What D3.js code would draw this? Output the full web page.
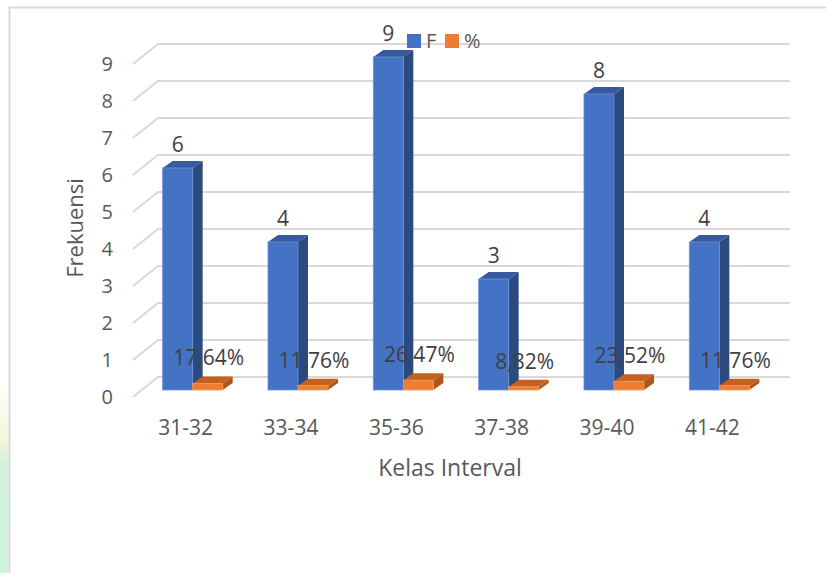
<!DOCTYPE html>
<html>
<head>
<meta charset="utf-8">
<script src="https://cdn.jsdelivr.net/npm/d3@7"></script>
<style>
  body { margin: 0; background: #fff; }
  svg { display: block; font-family: "Open Sans", "Noto Sans", sans-serif; }
</style>
</head>
<body>
<div id="chart"></div>
<script>
// Data
const categories = ["31-32", "33-34", "35-36", "37-38", "39-40", "41-42"];
const freq = [6, 4, 9, 3, 8, 4];
const pct = [0.1764, 0.1176, 0.2647, 0.0882, 0.2352, 0.1176];
const pctLabels = ["17,64%", "11,76%", "26,47%", "8,82%", "23,52%", "11,76%"];
const seriesNames = ["F", "%"];
const yTicks = [0, 1, 2, 3, 4, 5, 6, 7, 8, 9];

const W = 826, H = 573;
const svg = d3.select("#chart").append("svg").attr("width", W).attr("height", H);

// faint watermark strip on the left edge
const wm = svg.append("defs").append("linearGradient").attr("id", "wm")
  .attr("x1", 0).attr("y1", 0).attr("x2", 0).attr("y2", 1);
wm.append("stop").attr("offset", "0").attr("stop-color", "#ffffff");
wm.append("stop").attr("offset", "0.3").attr("stop-color", "#f5f6dc");
wm.append("stop").attr("offset", "0.45").attr("stop-color", "#cff2dc");
wm.append("stop").attr("offset", "1").attr("stop-color", "#cdf3dc");
svg.append("rect").attr("x", 0).attr("y", 380).attr("width", 8.5).attr("height", 193).attr("fill", "url(#wm)");

// outer frame
svg.append("path")
  .attr("d", "M9.5,573 V7.5 H826")
  .attr("fill", "none").attr("stroke", "#d9d9d9").attr("stroke-width", 2);

// 3d geometry
const depth = { dx: 25, dy: -20 };     // front floor -> back wall
const barOff = { dx: 9, dy: -7 };      // front floor -> bar front plane
const barDepth = { dx: 10, dy: -7 };   // bar thickness

const yFront = d3.scaleLinear().domain([0, 9]).range([397, 64]);
const backLeft = 133 + depth.dx, backRight = 790;

// grid lines
const grid = svg.append("g").attr("stroke", "#d9d9d9").attr("stroke-width", 2).attr("fill", "none");
yTicks.forEach(t => {
  const y = yFront(t);
  grid.append("path").attr("d", `M133,${y} L${backLeft},${y + depth.dy} H${backRight}`);
});

// y axis labels
svg.append("g")
  .attr("transform", "translate(113,0)")
  .call(d3.axisLeft(yFront).tickValues(yTicks).tickSize(0).tickPadding(0))
  .call(g => g.select(".domain").remove())
  .call(g => g.selectAll("text").attr("fill", "#595959").attr("font-size", 20)
    .attr("font-family", "Open Sans"));

// x scales
const x0 = d3.scaleBand().domain(categories).range([140, 772]).paddingInner(0.43).paddingOuter(0.215);
const x1 = d3.scaleBand().domain(seriesNames).range([0, x0.bandwidth()]);
const yBar = v => yFront(v) + barOff.dy;

const palette = {
  F: { front: "#4472c4", side: "#2b4a80", top: "#3659a0", edge: "#6a92d8" },
  "%": { front: "#ed7d31", side: "#b0561d", top: "#c4611f", edge: "#f39a5c" }
};

function drawBar(g, x, w, v, c) {
  const y0 = yBar(0), y1 = yBar(v);
  const { dx, dy } = barDepth;
  g.append("path").attr("fill", c.side)
    .attr("d", `M${x + w},${y0} L${x + w + dx},${y0 + dy} V${y1 + dy} L${x + w},${y1} Z`);
  g.append("path").attr("fill", c.top)
    .attr("d", `M${x},${y1} L${x + dx},${y1 + dy} H${x + w + dx} L${x + w},${y1} Z`);
  g.append("rect").attr("x", x).attr("y", y1).attr("width", w).attr("height", y0 - y1)
    .attr("fill", c.front).attr("stroke", c.edge).attr("stroke-width", 0.8);
}

const bars = svg.append("g");
categories.forEach((cat, i) => {
  const g = bars.append("g");
  const xb = x0(cat) + x1("F");
  const xp = x0(cat) + x1("%");
  drawBar(g, xb, x1.bandwidth(), freq[i], palette.F);
  drawBar(g, xp, x1.bandwidth(), pct[i], palette["%"]);
});

// data labels
const labels = svg.append("g").attr("fill", "#404040").attr("font-size", 21).attr("text-anchor", "middle");
categories.forEach((cat, i) => {
  labels.append("text")
    .attr("x", x0(cat) + x1("F") + x1.bandwidth() / 2)
    .attr("y", yBar(freq[i]) - 16)
    .text(freq[i]);
  labels.append("text")
    .attr("x", x0(cat) + x1("%") + x1.bandwidth() / 2 + 1)
    .attr("y", yBar(pct[i]) - 18)
    .text(pctLabels[i]);
});

// category axis
svg.append("g")
  .attr("transform", "translate(-7,420)")
  .call(d3.axisBottom(x0).tickSize(0).tickPadding(0))
  .call(g => g.select(".domain").remove())
  .call(g => g.selectAll("text").attr("fill", "#595959").attr("font-size", 21)
    .attr("font-family", "Open Sans"));

// axis titles
svg.append("text")
  .attr("x", 450).attr("y", 476).attr("text-anchor", "middle")
  .attr("fill", "#595959").attr("font-size", 23).text("Kelas Interval");
svg.append("text")
  .attr("transform", "translate(83,228) rotate(-90)").attr("text-anchor", "middle")
  .attr("fill", "#595959").attr("font-size", 22).text("Frekuensi");

// legend
const legend = svg.append("g").attr("transform", "translate(407,34)");
const legendItems = [{ name: "F", x: 0 }, { name: "%", x: 38 }];
legendItems.forEach(d => {
  legend.append("rect").attr("x", d.x).attr("y", 0).attr("width", 14).attr("height", 14)
    .attr("fill", palette[d.name].front);
  legend.append("text").attr("x", d.x + 19).attr("y", 14)
    .attr("fill", "#595959").attr("font-size", 20).text(d.name);
});
</script>
</body>
</html>
